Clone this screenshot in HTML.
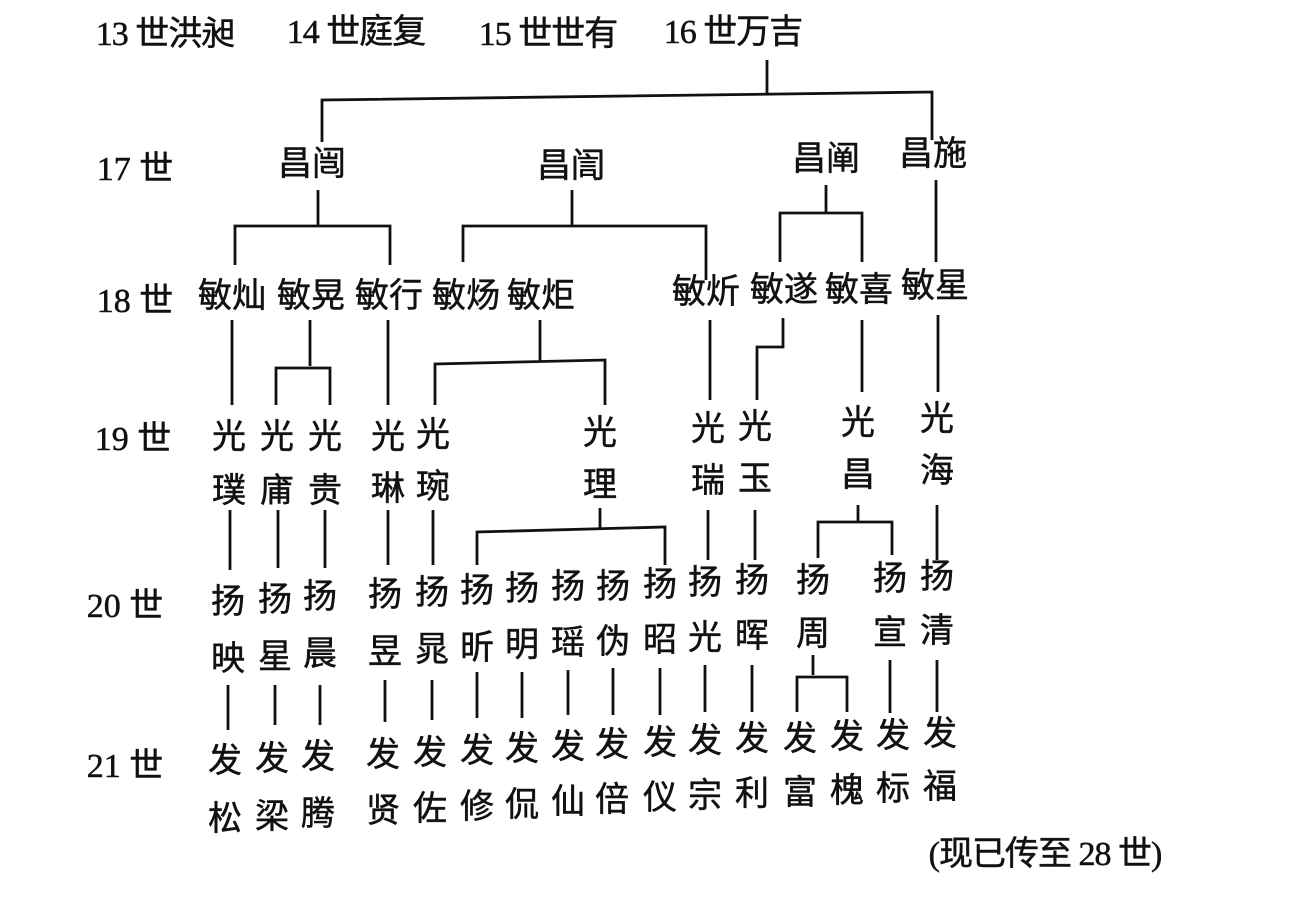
<!DOCTYPE html>
<html><head><meta charset="utf-8"><style>
html,body{margin:0;padding:0;background:#fff;}
#w{position:relative;width:1290px;height:917px;overflow:hidden;background:#fff;}
.t{position:absolute;transform:translate(-50%,-50%);font-family:"Liberation Serif","Noto Sans CJK SC",sans-serif;font-size:34px;color:#111;white-space:nowrap;line-height:1;-webkit-text-stroke:0.5px #111;}
.n{letter-spacing:-1px;}
svg{position:absolute;left:0;top:0;}
</style></head><body><div id="w">
<svg width="1290" height="917" stroke="#111" stroke-width="2.8" fill="none">
<path d="M767 60V95M322 142V100L932 92V140"/>
<path d="M318 190V225M235 265V226H390V265"/>
<path d="M572 190V225M463 262V226H706V280"/>
<path d="M826 185V213M780 262V213H862V262"/>
<path d="M936 180V262"/>
<path d="M232 320V405M310 320V366M276 405V368H330V405M388 320V405"/>
<path d="M540 320V362M435 405V364L605 360V405"/>
<path d="M710 320V400M783 318V347H757V400M862 320V392M938 315V392"/>
<path d="M230 510V570M278 510V568M325 510V568M388 510V565M433 510V565"/>
<path d="M600 508V528M477 565V532L665 527V565"/>
<path d="M708 510V560M755 510V560M858 505V522M818 558V522H892V555M937 505V560"/>
<path d="M228 685V730M275 685V725M320 685V725M385 680V722M432 680V720M477 672V718M522 672V718M568 670V715M613 668V715M660 668V715M705 665V712M752 665V712M813 655V675M797 712V677H847V712M890 660V713M937 660V712"/>
</svg>
<span class="t n" style="left:165px;top:35px">13 世洪昶</span>
<span class="t n" style="left:356px;top:33px">14 世庭复</span>
<span class="t n" style="left:548px;top:35px">15 世世有</span>
<span class="t n" style="left:733px;top:33px">16 世万吉</span>
<span class="t" style="left:135px;top:170px">17 世</span>
<span class="t" style="left:312px;top:165px">昌闿</span>
<span class="t" style="left:571px;top:167px">昌訚</span>
<span class="t" style="left:826px;top:160px">昌阐</span>
<span class="t" style="left:933px;top:155px">昌施</span>
<span class="t" style="left:135px;top:302px">18 世</span>
<span class="t" style="left:232px;top:297px">敏灿</span>
<span class="t" style="left:311px;top:297px">敏晃</span>
<span class="t" style="left:389px;top:297px">敏行</span>
<span class="t" style="left:466px;top:297px">敏炀</span>
<span class="t" style="left:541px;top:297px">敏炬</span>
<span class="t" style="left:706px;top:293px">敏炘</span>
<span class="t" style="left:784px;top:291px">敏遂</span>
<span class="t" style="left:859px;top:291px">敏喜</span>
<span class="t" style="left:935px;top:287px">敏星</span>
<span class="t" style="left:133px;top:440px">19 世</span>
<span class="t" style="left:229px;top:438px">光</span><span class="t" style="left:229px;top:492px">璞</span>
<span class="t" style="left:277px;top:438px">光</span><span class="t" style="left:277px;top:492px">庯</span>
<span class="t" style="left:325px;top:438px">光</span><span class="t" style="left:325px;top:492px">贵</span>
<span class="t" style="left:388px;top:438px">光</span><span class="t" style="left:388px;top:490px">琳</span>
<span class="t" style="left:433px;top:436px">光</span><span class="t" style="left:433px;top:488px">琬</span>
<span class="t" style="left:600px;top:434px">光</span><span class="t" style="left:600px;top:486px">理</span>
<span class="t" style="left:708px;top:430px">光</span><span class="t" style="left:708px;top:482px">瑞</span>
<span class="t" style="left:755px;top:428px">光</span><span class="t" style="left:755px;top:480px">玉</span>
<span class="t" style="left:858px;top:424px">光</span><span class="t" style="left:858px;top:476px">昌</span>
<span class="t" style="left:937px;top:420px">光</span><span class="t" style="left:937px;top:472px">海</span>
<span class="t" style="left:125px;top:607px">20 世</span>
<span class="t" style="left:228px;top:603px">扬</span><span class="t" style="left:228px;top:660px">映</span>
<span class="t" style="left:275px;top:601px">扬</span><span class="t" style="left:275px;top:658px">星</span>
<span class="t" style="left:320px;top:598px">扬</span><span class="t" style="left:320px;top:655px">晨</span>
<span class="t" style="left:385px;top:596px">扬</span><span class="t" style="left:385px;top:653px">昱</span>
<span class="t" style="left:432px;top:594px">扬</span><span class="t" style="left:432px;top:651px">晁</span>
<span class="t" style="left:477px;top:592px">扬</span><span class="t" style="left:477px;top:649px">昕</span>
<span class="t" style="left:522px;top:590px">扬</span><span class="t" style="left:522px;top:646px">明</span>
<span class="t" style="left:568px;top:588px">扬</span><span class="t" style="left:568px;top:644px">瑶</span>
<span class="t" style="left:613px;top:588px">扬</span><span class="t" style="left:613px;top:643px">伪</span>
<span class="t" style="left:660px;top:586px">扬</span><span class="t" style="left:660px;top:641px">昭</span>
<span class="t" style="left:705px;top:584px">扬</span><span class="t" style="left:705px;top:639px">光</span>
<span class="t" style="left:752px;top:582px">扬</span><span class="t" style="left:752px;top:637px">晖</span>
<span class="t" style="left:813px;top:582px">扬</span><span class="t" style="left:813px;top:635px">周</span>
<span class="t" style="left:890px;top:580px">扬</span><span class="t" style="left:890px;top:634px">宣</span>
<span class="t" style="left:937px;top:578px">扬</span><span class="t" style="left:937px;top:632px">清</span>
<span class="t" style="left:125px;top:767px">21 世</span>
<span class="t" style="left:225px;top:762px">发</span><span class="t" style="left:225px;top:820px">松</span>
<span class="t" style="left:272px;top:760px">发</span><span class="t" style="left:272px;top:818px">梁</span>
<span class="t" style="left:318px;top:758px">发</span><span class="t" style="left:318px;top:815px">腾</span>
<span class="t" style="left:383px;top:756px">发</span><span class="t" style="left:383px;top:812px">贤</span>
<span class="t" style="left:430px;top:754px">发</span><span class="t" style="left:430px;top:810px">佐</span>
<span class="t" style="left:477px;top:752px">发</span><span class="t" style="left:477px;top:808px">修</span>
<span class="t" style="left:522px;top:750px">发</span><span class="t" style="left:522px;top:806px">侃</span>
<span class="t" style="left:568px;top:748px">发</span><span class="t" style="left:568px;top:803px">仙</span>
<span class="t" style="left:612px;top:746px">发</span><span class="t" style="left:612px;top:801px">倍</span>
<span class="t" style="left:660px;top:744px">发</span><span class="t" style="left:660px;top:799px">仪</span>
<span class="t" style="left:705px;top:742px">发</span><span class="t" style="left:705px;top:797px">宗</span>
<span class="t" style="left:752px;top:740px">发</span><span class="t" style="left:752px;top:795px">利</span>
<span class="t" style="left:800px;top:740px">发</span><span class="t" style="left:800px;top:794px">富</span>
<span class="t" style="left:847px;top:738px">发</span><span class="t" style="left:847px;top:792px">槐</span>
<span class="t" style="left:893px;top:737px">发</span><span class="t" style="left:893px;top:790px">标</span>
<span class="t" style="left:940px;top:735px">发</span><span class="t" style="left:940px;top:788px">福</span>
<span class="t n" style="left:1045px;top:855px">(现已传至 28 世)</span>
</div></body></html>
